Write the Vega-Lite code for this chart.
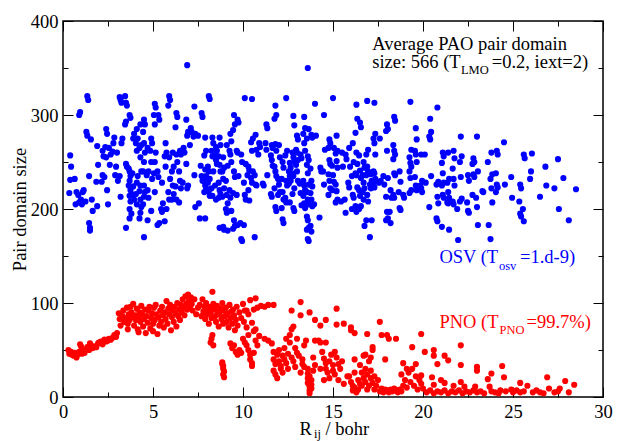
{
"$schema":"https://vega.github.io/schema/vega-lite/v6.json",
"width":540,"height":376,
"autosize":{"type":"none"},
"padding":{"left":63,"top":21,"right":21,"bottom":44},
"background":"white",
"config":{"view":{"stroke":"black","strokeWidth":1.5},"font":"Liberation Serif, Times New Roman, Times, serif",
 "text":{"font":"Liberation Serif, Times New Roman, Times, serif"},
 "axis":{"domain":false,"grid":false,"labelFont":"Liberation Serif, Times New Roman, Times, serif","labelFontSize":18.5,"labelColor":"black","tickColor":"black","tickWidth":1,"titleFont":"Liberation Serif, Times New Roman, Times, serif","titleFontSize":18.5,"titleFontWeight":"normal","titleColor":"black","labelOverlap":false,"labelFlush":false}},
"datasets":{
"notes":[{"t":"Average PAO pair domain","x":17.18,"y":369.6,"c":"note"},{"t":"size: 566 (T","x":17.18,"y":350,"c":"note"},{"t":"=0.2, iext=2)","x":23.82,"y":350,"c":"note"}],
"subs":[{"t":"LMO","x":22.11,"y":343.3,"c":"note"},{"t":"osv","x":24.22,"y":135.5,"c":"OSV"},{"t":"PNO","x":24.25,"y":66.7,"c":"PNO"}],
"labels":[{"t":"OSV (T","x":20.91,"y":142.2,"c":"OSV"},{"t":"=1.d-9)","x":25.39,"y":142.2,"c":"OSV"},{"t":"PNO (T","x":20.91,"y":73.6,"c":"PNO"},{"t":"=99.7%)","x":25.75,"y":73.6,"c":"PNO"}],
"osv":[
{"x":0.4,"y":257},{"x":0.45,"y":245},{"x":0.4,"y":231},{"x":0.35,"y":217},
{"x":0.7,"y":205},{"x":0.75,"y":218},{"x":0.65,"y":232},
{"x":0.9,"y":300},{"x":0.95,"y":303},{"x":0.85,"y":215},{"x":1.0,"y":210},{"x":0.9,"y":207},
{"x":1.1,"y":218},{"x":1.15,"y":220},{"x":1.05,"y":205},
{"x":1.3,"y":282},{"x":1.35,"y":278},{"x":1.25,"y":208},
{"x":1.35,"y":320},{"x":1.4,"y":316},
{"x":1.45,"y":185},{"x":1.5,"y":180},{"x":1.5,"y":177},{"x":1.45,"y":235},{"x":1.55,"y":274},
{"x":1.65,"y":198},{"x":1.6,"y":210},
{"x":1.9,"y":203},{"x":1.95,"y":247},{"x":1.85,"y":229},{"x":1.9,"y":267},
{"x":2.15,"y":229},{"x":2.2,"y":236},{"x":2.25,"y":256},{"x":2.2,"y":262},{"x":2.3,"y":234},
{"x":2.4,"y":285},{"x":2.45,"y":280},{"x":2.35,"y":266},{"x":2.4,"y":255},{"x":2.45,"y":220},{"x":2.5,"y":205},
{"x":2.6,"y":247},{"x":2.65,"y":258},{"x":2.55,"y":265},
{"x":2.8,"y":270},{"x":2.85,"y":276},{"x":2.75,"y":261},{"x":2.9,"y":236},
{"x":3.0,"y":260},{"x":3.05,"y":230},{"x":2.95,"y":245},
{"x":3.15,"y":319},{"x":3.2,"y":316},{"x":3.25,"y":313},{"x":3.2,"y":213},{"x":3.15,"y":235},{"x":3.25,"y":270},{"x":3.3,"y":275},
{"x":3.45,"y":320},{"x":3.5,"y":313},{"x":3.55,"y":310},{"x":3.5,"y":293},{"x":3.45,"y":290},{"x":3.5,"y":248},{"x":3.55,"y":245},{"x":3.5,"y":180},
{"x":3.7,"y":300},{"x":3.75,"y":297},{"x":3.65,"y":243},{"x":3.7,"y":240},{"x":3.75,"y":235},{"x":3.7,"y":230},{"x":3.65,"y":225},{"x":3.75,"y":220},{"x":3.7,"y":214},{"x":3.75,"y":208},{"x":3.7,"y":200},{"x":3.8,"y":195},{"x":3.7,"y":190},
{"x":3.9,"y":275},{"x":3.95,"y":280},{"x":3.85,"y":238},{"x":3.9,"y":224},{"x":3.95,"y":210},{"x":3.9,"y":215},
{"x":4.1,"y":285},{"x":4.15,"y":275},{"x":4.05,"y":270},{"x":4.1,"y":262},{"x":4.15,"y":235},{"x":4.1,"y":228},{"x":4.05,"y":216},{"x":4.1,"y":205},
{"x":4.3,"y":290},{"x":4.35,"y":268},{"x":4.25,"y":265},{"x":4.3,"y":255},{"x":4.35,"y":240},{"x":4.3,"y":225},{"x":4.25,"y":219},{"x":4.3,"y":210},{"x":4.35,"y":202},{"x":4.3,"y":196},{"x":4.25,"y":190},
{"x":4.5,"y":295},{"x":4.55,"y":290},{"x":4.45,"y":282},{"x":4.5,"y":270},{"x":4.55,"y":260},{"x":4.5,"y":250},{"x":4.45,"y":240},{"x":4.5,"y":225},{"x":4.55,"y":218},{"x":4.5,"y":213},{"x":4.45,"y":205},{"x":4.5,"y":170},
{"x":4.7,"y":265},{"x":4.75,"y":240},{"x":4.65,"y":236},{"x":4.7,"y":220},{"x":4.75,"y":212},{"x":4.7,"y":188},
{"x":4.9,"y":275},{"x":4.95,"y":270},{"x":4.85,"y":262},{"x":4.9,"y":250},{"x":4.95,"y":232},{"x":4.9,"y":198},
{"x":5.1,"y":312},{"x":5.15,"y":308},{"x":5.05,"y":300},{"x":5.1,"y":290},{"x":5.15,"y":260},{"x":5.1,"y":250},{"x":5.05,"y":238},{"x":5.1,"y":218},
{"x":5.3,"y":300},{"x":5.35,"y":295},{"x":5.25,"y":240},{"x":5.3,"y":234},{"x":5.35,"y":185},{"x":5.25,"y":183},
{"x":5.5,"y":228},{"x":5.55,"y":206},{"x":5.45,"y":200},{"x":5.5,"y":197},
{"x":5.7,"y":270},{"x":5.75,"y":260},{"x":5.65,"y":256},{"x":5.7,"y":245},{"x":5.75,"y":200},{"x":5.65,"y":187},
{"x":5.9,"y":320},{"x":5.95,"y":316},{"x":5.85,"y":310},{"x":5.9,"y":255},{"x":5.95,"y":232},{"x":5.85,"y":218},{"x":5.9,"y":210},
{"x":6.1,"y":260},{"x":6.15,"y":245},{"x":6.05,"y":240},{"x":6.1,"y":225},{"x":6.15,"y":216},{"x":6.05,"y":210},
{"x":6.3,"y":302},{"x":6.35,"y":298},{"x":6.25,"y":287},{"x":6.3,"y":258},{"x":6.35,"y":250},{"x":6.25,"y":224},{"x":6.3,"y":210},
{"x":6.5,"y":262},{"x":6.55,"y":258},{"x":6.45,"y":240},{"x":6.5,"y":230},{"x":6.55,"y":222},{"x":6.45,"y":207},
{"x":6.7,"y":265},{"x":6.75,"y":260},{"x":6.65,"y":228},
{"x":6.9,"y":353},{"x":6.85,"y":295},{"x":6.95,"y":282},{"x":6.9,"y":278},{"x":6.85,"y":248},{"x":6.95,"y":225},{"x":6.9,"y":222},
{"x":7.1,"y":286},{"x":7.15,"y":282},{"x":7.05,"y":268},
{"x":7.3,"y":309},{"x":7.35,"y":280},{"x":7.25,"y":277},{"x":7.3,"y":236},{"x":7.35,"y":202},
{"x":7.5,"y":278},{"x":7.55,"y":206},{"x":7.6,"y":190},
{"x":7.7,"y":302},{"x":7.75,"y":298},{"x":7.65,"y":246},{"x":7.7,"y":235},{"x":7.75,"y":230},
{"x":7.9,"y":276},{"x":7.95,"y":262},{"x":7.85,"y":257},{"x":7.9,"y":242},{"x":7.95,"y":235},{"x":7.85,"y":230},{"x":7.9,"y":225},{"x":7.95,"y":222},{"x":7.85,"y":218},{"x":7.9,"y":190},
{"x":8.1,"y":320},{"x":8.15,"y":317},{"x":8.05,"y":245},{"x":8.1,"y":240},{"x":8.15,"y":232},{"x":8.05,"y":228},{"x":8.1,"y":219},{"x":8.15,"y":214},
{"x":8.3,"y":276},{"x":8.35,"y":270},{"x":8.25,"y":262},{"x":8.3,"y":256},{"x":8.35,"y":240},{"x":8.25,"y":222},{"x":8.3,"y":214},
{"x":8.5,"y":266},{"x":8.55,"y":262},{"x":8.45,"y":257},{"x":8.5,"y":252},{"x":8.55,"y":248},{"x":8.45,"y":225},{"x":8.5,"y":210},
{"x":8.7,"y":276},{"x":8.75,"y":268},{"x":8.65,"y":256},{"x":8.7,"y":247},{"x":8.75,"y":240},{"x":8.65,"y":228},{"x":8.7,"y":220},{"x":8.75,"y":216},{"x":8.65,"y":212},{"x":8.7,"y":180},
{"x":8.9,"y":255},{"x":8.95,"y":244},{"x":8.85,"y":240},{"x":8.9,"y":232},{"x":8.95,"y":222},{"x":8.85,"y":213},{"x":8.9,"y":181},{"x":8.95,"y":178},
{"x":9.1,"y":268},{"x":9.15,"y":246},{"x":9.05,"y":230},{"x":9.1,"y":215},{"x":9.15,"y":206},{"x":9.05,"y":200},{"x":9.1,"y":196},{"x":9.15,"y":177},
{"x":9.3,"y":280},{"x":9.35,"y":272},{"x":9.25,"y":262},{"x":9.3,"y":258},{"x":9.35,"y":250},{"x":9.25,"y":220},{"x":9.3,"y":212},{"x":9.35,"y":198},
{"x":9.5,"y":300},{"x":9.55,"y":290},{"x":9.45,"y":284},{"x":9.5,"y":240},{"x":9.55,"y":234},{"x":9.45,"y":217},{"x":9.5,"y":188},{"x":9.55,"y":182},{"x":9.45,"y":179},
{"x":9.7,"y":295},{"x":9.75,"y":292},{"x":9.65,"y":262},{"x":9.7,"y":260},{"x":9.75,"y":235},{"x":9.65,"y":215},{"x":9.7,"y":183},
{"x":9.9,"y":258},{"x":9.95,"y":250},{"x":9.85,"y":185},{"x":9.9,"y":168},{"x":9.95,"y":166},
{"x":10.1,"y":318},{"x":10.15,"y":248},{"x":10.05,"y":228},{"x":10.1,"y":215},{"x":10.15,"y":210},{"x":10.05,"y":183},
{"x":10.3,"y":245},{"x":10.35,"y":241},{"x":10.25,"y":236},{"x":10.3,"y":220},{"x":10.35,"y":209},
{"x":10.5,"y":317},{"x":10.55,"y":275},{"x":10.45,"y":271},{"x":10.5,"y":262},{"x":10.55,"y":240},{"x":10.45,"y":233},{"x":10.5,"y":228},
{"x":10.7,"y":279},{"x":10.75,"y":263},{"x":10.65,"y":236},{"x":10.7,"y":226},{"x":10.75,"y":225},{"x":10.65,"y":170},
{"x":10.9,"y":270},{"x":10.95,"y":266},{"x":10.85,"y":258},
{"x":11.1,"y":227},{"x":11.15,"y":225},
{"x":11.3,"y":290},{"x":11.35,"y":286},{"x":11.25,"y":270},{"x":11.3,"y":263},{"x":11.35,"y":236},
{"x":11.6,"y":268},{"x":11.65,"y":265},{"x":11.55,"y":257},{"x":11.6,"y":252},{"x":11.65,"y":246},{"x":11.55,"y":216},{"x":11.6,"y":213},
{"x":11.8,"y":310},{"x":11.85,"y":300},{"x":11.75,"y":296},{"x":11.8,"y":269},{"x":11.85,"y":262},{"x":11.75,"y":245},{"x":11.8,"y":240},{"x":11.85,"y":235},{"x":11.75,"y":222},{"x":11.8,"y":202},{"x":11.85,"y":198},
{"x":12.0,"y":268},{"x":12.05,"y":255},{"x":11.95,"y":232},{"x":12.0,"y":226},{"x":12.05,"y":218},{"x":11.95,"y":215},
{"x":12.2,"y":250},{"x":12.25,"y":244},{"x":12.15,"y":232},{"x":12.2,"y":218},{"x":12.25,"y":210},{"x":12.15,"y":201},{"x":12.2,"y":189},{"x":12.25,"y":185},
{"x":12.4,"y":318},{"x":12.45,"y":262},{"x":12.35,"y":257},{"x":12.4,"y":230},{"x":12.45,"y":225},{"x":12.35,"y":212},{"x":12.4,"y":207},
{"x":12.6,"y":249},{"x":12.65,"y":244},{"x":12.55,"y":240},{"x":12.6,"y":235},{"x":12.65,"y":230},{"x":12.55,"y":227},{"x":12.6,"y":207},
{"x":12.8,"y":299},{"x":12.85,"y":289},{"x":12.75,"y":260},{"x":12.8,"y":255},{"x":12.85,"y":250},{"x":12.75,"y":238},{"x":12.8,"y":235},{"x":12.85,"y":222},{"x":12.75,"y":216},{"x":12.8,"y":201},{"x":12.85,"y":198},
{"x":13.0,"y":278},{"x":13.05,"y":274},{"x":12.95,"y":263},{"x":13.0,"y":260},{"x":13.05,"y":252},{"x":12.95,"y":247},{"x":13.0,"y":240},{"x":13.05,"y":230},
{"x":13.2,"y":258},{"x":13.25,"y":254},{"x":13.15,"y":227},{"x":13.2,"y":217},{"x":13.25,"y":204},
{"x":13.4,"y":298},{"x":13.45,"y":286},{"x":13.35,"y":280},{"x":13.4,"y":270},{"x":13.45,"y":262},{"x":13.35,"y":230},{"x":13.4,"y":225},{"x":13.45,"y":220},{"x":13.35,"y":214},{"x":13.4,"y":206},{"x":13.45,"y":201},
{"x":13.6,"y":350},{"x":13.65,"y":285},{"x":13.55,"y":275},{"x":13.6,"y":256},{"x":13.65,"y":252},{"x":13.55,"y":247},{"x":13.6,"y":238},{"x":13.65,"y":226},{"x":13.55,"y":218},{"x":13.6,"y":210},{"x":13.65,"y":205},{"x":13.55,"y":192},{"x":13.6,"y":188},{"x":13.65,"y":180},{"x":13.55,"y":178},{"x":13.6,"y":168},{"x":13.65,"y":166},
{"x":13.8,"y":279},{"x":13.85,"y":276},{"x":13.75,"y":243},{"x":13.8,"y":230},{"x":13.85,"y":224},{"x":13.75,"y":217},{"x":13.8,"y":210},{"x":13.85,"y":203},{"x":13.75,"y":182},{"x":13.8,"y":176},
{"x":14.0,"y":312},{"x":14.05,"y":278},{"x":13.95,"y":205},
{"x":14.3,"y":244},{"x":14.35,"y":240},{"x":14.25,"y":191},
{"x":14.5,"y":300},{"x":14.55,"y":263},{"x":14.45,"y":240},{"x":14.5,"y":226},
{"x":14.8,"y":274},{"x":14.85,"y":270},{"x":14.75,"y":265},{"x":14.8,"y":252},{"x":14.85,"y":248},{"x":14.75,"y":237},{"x":14.8,"y":230},{"x":14.85,"y":222},{"x":14.75,"y":215},
{"x":15.0,"y":318},{"x":15.05,"y":265},{"x":14.95,"y":246},{"x":15.0,"y":236},{"x":15.05,"y":229},{"x":14.95,"y":220},
{"x":15.2,"y":278},{"x":15.25,"y":262},{"x":15.15,"y":259},{"x":15.2,"y":251},{"x":15.25,"y":244},{"x":15.15,"y":226},{"x":15.2,"y":219},{"x":15.25,"y":210},{"x":15.15,"y":207},
{"x":15.5,"y":260},{"x":15.55,"y":245},{"x":15.45,"y":208},
{"x":15.7,"y":258},{"x":15.75,"y":253},{"x":15.65,"y":210},{"x":15.7,"y":196},
{"x":15.9,"y":265},{"x":15.95,"y":245},{"x":15.85,"y":228},{"x":15.9,"y":223},
{"x":16.1,"y":270},{"x":16.15,"y":250},{"x":16.05,"y":235},{"x":16.1,"y":215},{"x":16.15,"y":212},{"x":16.05,"y":200},
{"x":16.3,"y":311},{"x":16.35,"y":296},{"x":16.25,"y":281},{"x":16.3,"y":260},{"x":16.35,"y":248},{"x":16.25,"y":238},{"x":16.3,"y":236},{"x":16.35,"y":223},{"x":16.25,"y":203},{"x":16.3,"y":197},
{"x":16.5,"y":292},{"x":16.55,"y":287},{"x":16.45,"y":257},{"x":16.5,"y":241},{"x":16.55,"y":233},{"x":16.45,"y":220},{"x":16.5,"y":214},{"x":16.55,"y":203},{"x":16.45,"y":200},
{"x":16.7,"y":250},{"x":16.75,"y":244},{"x":16.65,"y":236},{"x":16.7,"y":228},{"x":16.75,"y":222},{"x":16.65,"y":218},{"x":16.7,"y":210},{"x":16.75,"y":182},
{"x":16.9,"y":315},{"x":16.95,"y":263},{"x":16.85,"y":258},{"x":16.9,"y":245},{"x":16.95,"y":240},{"x":16.85,"y":236},{"x":16.9,"y":215},{"x":16.95,"y":208},{"x":16.85,"y":188},
{"x":17.1,"y":237},{"x":17.15,"y":230},{"x":17.05,"y":226},{"x":17.1,"y":222},{"x":17.15,"y":188},{"x":17.05,"y":170},
{"x":17.3,"y":313},{"x":17.35,"y":280},{"x":17.25,"y":275},{"x":17.3,"y":270},{"x":17.35,"y":258},{"x":17.25,"y":240},{"x":17.3,"y":238},{"x":17.35,"y":232},{"x":17.25,"y":227},{"x":17.3,"y":223},
{"x":17.6,"y":275},{"x":17.65,"y":230},{"x":17.55,"y":228},
{"x":17.8,"y":235},{"x":17.85,"y":226},
{"x":18.0,"y":290},{"x":18.05,"y":285},{"x":17.95,"y":283},{"x":18.0,"y":262},{"x":18.05,"y":233},{"x":17.95,"y":213},{"x":18.0,"y":197},{"x":18.05,"y":190},{"x":17.95,"y":188},
{"x":18.2,"y":220},{"x":18.25,"y":212},{"x":18.15,"y":197},{"x":18.2,"y":185},
{"x":18.4,"y":298},{"x":18.45,"y":294},{"x":18.35,"y":268},{"x":18.4,"y":262},{"x":18.45,"y":258},{"x":18.35,"y":253},{"x":18.4,"y":238},{"x":18.45,"y":236},{"x":18.35,"y":215},{"x":18.4,"y":212},
{"x":18.7,"y":240},{"x":18.75,"y":229},{"x":18.65,"y":218},{"x":18.7,"y":201},{"x":18.75,"y":199},
{"x":18.9,"y":215},{"x":18.95,"y":212},
{"x":19.3,"y":314},{"x":19.35,"y":263},{"x":19.25,"y":255},{"x":19.3,"y":249},{"x":19.35,"y":245},{"x":19.25,"y":240},{"x":19.3,"y":233},{"x":19.35,"y":220},{"x":19.25,"y":217},
{"x":19.6,"y":286},{"x":19.65,"y":274},{"x":19.55,"y":262},{"x":19.6,"y":258},{"x":19.65,"y":250},{"x":19.55,"y":234},{"x":19.6,"y":225},{"x":19.65,"y":220},
{"x":19.9,"y":258},{"x":19.95,"y":230},{"x":19.85,"y":225},{"x":19.9,"y":222},{"x":19.95,"y":218},
{"x":20.1,"y":258},{"x":20.15,"y":228},
{"x":20.4,"y":296},{"x":20.45,"y":282},{"x":20.35,"y":277},{"x":20.4,"y":274},{"x":20.45,"y":235},{"x":20.35,"y":202},
{"x":20.8,"y":308},{"x":20.85,"y":229},{"x":20.75,"y":226},{"x":20.8,"y":213},{"x":20.85,"y":206},{"x":20.75,"y":190},{"x":20.8,"y":187},
{"x":21.1,"y":260},{"x":21.15,"y":256},{"x":21.05,"y":249},{"x":21.1,"y":238},{"x":21.15,"y":228},{"x":21.05,"y":225},{"x":21.1,"y":215},{"x":21.15,"y":212},{"x":21.05,"y":181},
{"x":21.4,"y":260},{"x":21.45,"y":232},{"x":21.35,"y":228},{"x":21.4,"y":218},{"x":21.45,"y":212},{"x":21.35,"y":207},{"x":21.4,"y":206},{"x":21.45,"y":178},
{"x":21.7,"y":262},{"x":21.75,"y":254},{"x":21.65,"y":243},{"x":21.7,"y":232},{"x":21.75,"y":225},{"x":21.65,"y":208},{"x":21.7,"y":205},
{"x":21.9,"y":200},{"x":21.95,"y":167},
{"x":22.1,"y":277},{"x":22.15,"y":256},{"x":22.05,"y":250},{"x":22.1,"y":234},{"x":22.15,"y":211},{"x":22.05,"y":208},
{"x":22.5,"y":236},{"x":22.55,"y":230},{"x":22.45,"y":207},{"x":22.5,"y":198},{"x":22.55,"y":196},
{"x":22.8,"y":254},{"x":22.85,"y":250},{"x":22.75,"y":248},{"x":22.8,"y":237},{"x":22.85,"y":234},{"x":22.75,"y":215},
{"x":23.0,"y":277},{"x":23.05,"y":240},{"x":22.95,"y":212},{"x":23.0,"y":202},{"x":23.05,"y":183},
{"x":23.3,"y":219},{"x":23.35,"y":218},
{"x":23.6,"y":250},{"x":23.65,"y":183},
{"x":23.8,"y":260},{"x":23.85,"y":237},{"x":23.75,"y":232},{"x":23.8,"y":222},{"x":23.85,"y":207},{"x":23.75,"y":168},
{"x":24.1,"y":262},{"x":24.15,"y":258},{"x":24.05,"y":238},{"x":24.1,"y":226},{"x":24.15,"y":223},{"x":24.05,"y":218},
{"x":24.5,"y":271},{"x":24.55,"y":226},
{"x":24.9,"y":234},{"x":24.95,"y":212},
{"x":25.4,"y":226},{"x":25.45,"y":222},{"x":25.35,"y":208},{"x":25.4,"y":195},{"x":25.45,"y":192},
{"x":25.6,"y":258},{"x":25.65,"y":254},{"x":25.55,"y":200},{"x":25.6,"y":187},
{"x":26.0,"y":240},{"x":26.05,"y":259},{"x":25.95,"y":232},
{"x":26.5,"y":213},
{"x":26.8,"y":245},{"x":26.85,"y":225},
{"x":27.3,"y":222},
{"x":27.5,"y":253},{"x":27.55,"y":200},
{"x":27.8,"y":233},
{"x":28.1,"y":188},
{"x":28.5,"y":221}
],
"pno":[
{"x":0.3,"y":50},{"x":0.35,"y":46},{"x":0.45,"y":48},{"x":0.5,"y":45},{"x":0.6,"y":44},{"x":0.65,"y":47},{"x":0.75,"y":42},{"x":0.8,"y":45},{"x":0.9,"y":48},{"x":0.95,"y":56},{"x":1.0,"y":54},{"x":1.05,"y":46},{"x":1.15,"y":49},{"x":1.2,"y":47},{"x":1.3,"y":51},{"x":1.35,"y":53},{"x":1.45,"y":50},{"x":1.5,"y":57},{"x":1.55,"y":55},{"x":1.65,"y":52},{"x":1.75,"y":54},{"x":1.85,"y":53},{"x":1.95,"y":57},{"x":2.0,"y":58},{"x":2.1,"y":59},{"x":2.2,"y":56},{"x":2.3,"y":61},{"x":2.4,"y":59},{"x":2.5,"y":60},{"x":2.55,"y":62},{"x":2.65,"y":61},{"x":2.75,"y":63},{"x":2.85,"y":66},{"x":2.95,"y":64},{"x":3.0,"y":68},
{"x":3.1,"y":89},{"x":3.15,"y":83},{"x":3.2,"y":76},{"x":3.3,"y":86},{"x":3.35,"y":92},{"x":3.4,"y":80},{"x":3.5,"y":84},{"x":3.55,"y":95},{"x":3.6,"y":78},{"x":3.65,"y":88},{"x":3.7,"y":82},{"x":3.75,"y":96},{"x":3.8,"y":90},{"x":3.85,"y":85},{"x":3.9,"y":99},{"x":3.95,"y":76},{"x":4.0,"y":87},{"x":4.05,"y":82},{"x":4.1,"y":94},{"x":4.15,"y":72},{"x":4.2,"y":85},{"x":4.25,"y":90},{"x":4.3,"y":80},{"x":4.35,"y":97},{"x":4.4,"y":88},{"x":4.45,"y":75},{"x":4.5,"y":83},{"x":4.55,"y":93},{"x":4.6,"y":68},{"x":4.65,"y":86},{"x":4.7,"y":79},{"x":4.75,"y":92},{"x":4.8,"y":96},{"x":4.85,"y":73},{"x":4.9,"y":84},{"x":4.95,"y":89},{"x":5.0,"y":78},{"x":5.05,"y":95},{"x":5.1,"y":82},{"x":5.15,"y":98},{"x":5.2,"y":88},{"x":5.25,"y":67},{"x":5.3,"y":85},{"x":5.35,"y":76},{"x":5.4,"y":92},{"x":5.45,"y":80},{"x":5.5,"y":96},{"x":5.55,"y":87},{"x":5.6,"y":74},{"x":5.65,"y":90},{"x":5.7,"y":83},{"x":5.75,"y":102},{"x":5.8,"y":78},{"x":5.85,"y":94},{"x":5.9,"y":88},{"x":5.95,"y":98},{"x":6.0,"y":71},{"x":6.05,"y":85},{"x":6.1,"y":92},{"x":6.15,"y":80},{"x":6.2,"y":96},{"x":6.25,"y":89},{"x":6.3,"y":75},{"x":6.35,"y":100},{"x":6.4,"y":86},{"x":6.45,"y":93},{"x":6.5,"y":82},{"x":6.55,"y":98},{"x":6.6,"y":90},{"x":6.65,"y":104},{"x":6.7,"y":95},{"x":6.75,"y":87},{"x":6.8,"y":107},{"x":6.85,"y":99},{"x":6.9,"y":93},{"x":6.95,"y":109},{"x":7.0,"y":102},{"x":7.05,"y":96},{"x":7.1,"y":106},{"x":7.15,"y":99},{"x":7.2,"y":92},{"x":7.3,"y":104},{"x":7.4,"y":88},{"x":7.5,"y":95},{"x":7.6,"y":98},{"x":7.7,"y":86},{"x":7.75,"y":104},{"x":7.8,"y":91},{"x":7.85,"y":96},{"x":7.9,"y":83},{"x":7.95,"y":100},{"x":8.0,"y":88},{"x":8.05,"y":93},{"x":8.1,"y":78},{"x":8.15,"y":96},{"x":8.2,"y":90},{"x":8.25,"y":84},{"x":8.3,"y":112},{"x":8.35,"y":99},{"x":8.4,"y":93},{"x":8.45,"y":86},{"x":8.5,"y":80},{"x":8.55,"y":97},{"x":8.6,"y":91},{"x":8.65,"y":75},{"x":8.7,"y":88},{"x":8.75,"y":94},{"x":8.8,"y":83},{"x":8.85,"y":100},{"x":8.9,"y":78},{"x":8.95,"y":92},{"x":9.0,"y":86},{"x":9.05,"y":95},{"x":9.1,"y":80},{"x":9.15,"y":89},{"x":9.2,"y":74},{"x":9.25,"y":98},{"x":9.3,"y":84},{"x":9.35,"y":91},{"x":9.4,"y":78},{"x":9.45,"y":93},{"x":9.5,"y":87},{"x":9.55,"y":71},{"x":9.6,"y":82},{"x":9.65,"y":96},{"x":9.7,"y":76},{"x":9.8,"y":90},{"x":9.9,"y":84},{"x":10.0,"y":99},{"x":10.05,"y":80},{"x":10.1,"y":92},{"x":10.2,"y":74},{"x":10.3,"y":88},{"x":10.4,"y":103},{"x":10.5,"y":79},{"x":10.6,"y":93},{"x":10.7,"y":72},{"x":10.8,"y":95},{"x":11.0,"y":97},{"x":11.2,"y":96},{"x":11.4,"y":98},
{"x":3.6,"y":72},{"x":4.2,"y":69},{"x":5.0,"y":70},
{"x":8.2,"y":58},{"x":8.25,"y":62},{"x":8.3,"y":66},{"x":8.35,"y":55},
{"x":8.85,"y":37},{"x":8.9,"y":33},{"x":8.9,"y":30},{"x":8.95,"y":27},{"x":8.9,"y":24},{"x":8.95,"y":21},{"x":8.85,"y":35},
{"x":9.3,"y":57},{"x":9.4,"y":52},{"x":9.5,"y":55},{"x":9.6,"y":48},{"x":9.7,"y":45},{"x":9.8,"y":50},{"x":9.9,"y":47},
{"x":10.0,"y":62},{"x":10.1,"y":58},{"x":10.2,"y":55},{"x":10.3,"y":66},{"x":10.3,"y":50},{"x":10.4,"y":45},{"x":10.4,"y":40},{"x":10.5,"y":36},{"x":10.5,"y":33},{"x":10.6,"y":47},{"x":10.6,"y":70},{"x":10.7,"y":60},{"x":10.8,"y":55},{"x":10.9,"y":65},
{"x":11.2,"y":62},{"x":11.4,"y":60},{"x":11.6,"y":57},{"x":11.7,"y":48},{"x":11.7,"y":40},{"x":11.8,"y":35},{"x":11.7,"y":28},{"x":11.8,"y":24},{"x":11.9,"y":20},{"x":11.9,"y":45},{"x":12.0,"y":50},{"x":12.0,"y":38},{"x":12.1,"y":33},{"x":12.1,"y":30},{"x":12.2,"y":44},{"x":12.2,"y":26},{"x":12.3,"y":40},{"x":12.3,"y":52},{"x":12.4,"y":36},{"x":12.4,"y":62},{"x":12.5,"y":46},{"x":12.5,"y":30},{"x":12.6,"y":58},{"x":12.6,"y":66},{"x":12.7,"y":42},{"x":12.7,"y":72},{"x":12.8,"y":75},{"x":12.8,"y":38},{"x":12.9,"y":52},{"x":12.9,"y":32},{"x":13.0,"y":62},{"x":13.0,"y":47},{"x":13.1,"y":44},{"x":13.2,"y":26},{"x":13.3,"y":40},{"x":13.3,"y":35},{"x":13.4,"y":32},{"x":13.4,"y":55},{"x":13.5,"y":60},{"x":13.6,"y":30},{"x":13.6,"y":25},{"x":13.6,"y":20},{"x":13.6,"y":15},{"x":13.7,"y":11},{"x":13.7,"y":7},{"x":13.7,"y":4},{"x":13.7,"y":22},{"x":13.8,"y":18},{"x":13.8,"y":13},{"x":13.8,"y":9},{"x":13.9,"y":28},{"x":13.9,"y":42},{"x":14.0,"y":34},{"x":14.0,"y":60},
{"x":14.3,"y":58},{"x":14.4,"y":48},{"x":14.5,"y":41},{"x":14.6,"y":36},{"x":14.6,"y":30},{"x":14.7,"y":26},{"x":14.8,"y":38},{"x":14.8,"y":20},{"x":14.9,"y":45},{"x":15.0,"y":34},{"x":15.0,"y":28},{"x":15.1,"y":24},{"x":15.1,"y":48},{"x":15.2,"y":42},{"x":15.3,"y":35},{"x":15.3,"y":18},{"x":15.4,"y":30},{"x":15.5,"y":38},{"x":14.3,"y":30},{"x":14.5,"y":18},{"x":15.6,"y":14},{"x":15.8,"y":22},
{"x":15.9,"y":22},{"x":16.0,"y":16},{"x":16.1,"y":12},{"x":16.1,"y":7},{"x":16.2,"y":10},{"x":16.2,"y":26},{"x":16.3,"y":5},{"x":16.4,"y":18},{"x":16.4,"y":8},{"x":16.5,"y":14},{"x":16.5,"y":34},{"x":16.6,"y":26},{"x":16.6,"y":12},{"x":16.7,"y":44},{"x":16.7,"y":20},{"x":16.8,"y":16},{"x":16.8,"y":30},{"x":16.9,"y":24},{"x":16.9,"y":8},{"x":17.0,"y":38},{"x":17.0,"y":12},{"x":17.1,"y":28},{"x":17.1,"y":20},{"x":17.2,"y":15},{"x":17.2,"y":50},{"x":17.3,"y":22},{"x":17.3,"y":8},{"x":17.4,"y":12},{"x":17.5,"y":18},{"x":17.6,"y":6},{"x":17.7,"y":9},{"x":17.8,"y":5},{"x":17.9,"y":8},{"x":18.0,"y":7},{"x":18.1,"y":5},{"x":18.2,"y":8},{"x":18.3,"y":6},{"x":18.4,"y":9},{"x":18.5,"y":7},{"x":18.6,"y":5},{"x":18.7,"y":8},{"x":18.8,"y":6},{"x":18.8,"y":24},{"x":18.9,"y":12},{"x":19.0,"y":18},{"x":19.1,"y":10},{"x":19.2,"y":26},{"x":19.3,"y":16},{"x":19.4,"y":30},{"x":19.5,"y":12},{"x":19.6,"y":22},{"x":19.7,"y":8},{"x":19.8,"y":18},{"x":19.9,"y":14},{"x":20.0,"y":9},
{"x":13.2,"y":101},{"x":13.2,"y":87},{"x":13.7,"y":90},{"x":14.0,"y":82},{"x":14.3,"y":76},{"x":14.6,"y":82},{"x":15.2,"y":94},{"x":15.2,"y":77},{"x":15.6,"y":78},{"x":16.0,"y":74},{"x":16.0,"y":71},{"x":16.9,"y":67},{"x":17.6,"y":80},{"x":17.7,"y":66},{"x":18.0,"y":66},{"x":18.1,"y":62},{"x":18.5,"y":62},{"x":19.4,"y":53},{"x":17.2,"y":53},{"x":12.7,"y":92},{"x":11.7,"y":98},{"x":10.7,"y":105},{"x":10.2,"y":92},{"x":14.2,"y":60},{"x":14.6,"y":58},{"x":16.2,"y":40},{"x":16.8,"y":45},{"x":17.1,"y":42},{"x":17.9,"y":40},{"x":18.9,"y":36},{"x":19.1,"y":30},{"x":19.6,"y":35},{"x":16.2,"y":68},
{"x":19.9,"y":67},{"x":20.1,"y":48},{"x":20.6,"y":50},{"x":20.6,"y":44},{"x":20.8,"y":35},{"x":21.2,"y":44},{"x":21.4,"y":39},{"x":22.1,"y":55},{"x":22.1,"y":34},{"x":23.0,"y":32},{"x":23.0,"y":28},{"x":23.6,"y":19},{"x":23.8,"y":25},{"x":24.4,"y":33},{"x":24.5,"y":21},{"x":26.9,"y":21},{"x":25.4,"y":15},{"x":27.9,"y":17},{"x":28.4,"y":13},{"x":19.9,"y":23},{"x":20.5,"y":21},{"x":20.6,"y":13},{"x":21.0,"y":18},{"x":21.2,"y":15},{"x":21.7,"y":12},{"x":22.1,"y":16},{"x":22.3,"y":11},{"x":22.9,"y":11},{"x":23.7,"y":11},{"x":24.3,"y":7},{"x":25.0,"y":5},{"x":25.4,"y":5},{"x":26.1,"y":5},{"x":26.5,"y":5},{"x":27.0,"y":9},{"x":27.3,"y":5},{"x":27.6,"y":9},{"x":28.1,"y":5},{"x":20.2,"y":5},{"x":20.4,"y":7},{"x":20.6,"y":4},{"x":20.8,"y":6},{"x":21.0,"y":5},{"x":21.2,"y":7},{"x":21.4,"y":4},{"x":21.6,"y":6},{"x":21.8,"y":5},{"x":22.0,"y":7},{"x":22.2,"y":4},{"x":22.4,"y":6},{"x":22.6,"y":5},{"x":22.8,"y":7},{"x":23.0,"y":5},{"x":23.2,"y":6},{"x":23.4,"y":4},{"x":23.8,"y":6},{"x":24.0,"y":5},{"x":24.2,"y":4},{"x":24.6,"y":6},{"x":25.2,"y":7},{"x":25.6,"y":6},{"x":26.3,"y":7},{"x":26.7,"y":4},{"x":27.5,"y":6},{"x":25.8,"y":12},{"x":24.9,"y":8}
]},
"layer":[
{"data":{"name":"osv"},"mark":{"type":"point","filled":true,"size":38,"opacity":1,"color":"#0000ff"},
 "encoding":{
  "x":{"field":"x","type":"quantitative","scale":{"domain":[0,30],"nice":false,"zero":false},
   "axis":{"orient":"bottom","values":[0,5,10,15,20,25,30],"tickSize":-10,"labelPadding":15,"title":"R","titleX":236,"titleY":37,"titleAlign":"left","titleBaseline":"alphabetic"}},
  "y":{"field":"y","type":"quantitative","scale":{"domain":[0,400],"nice":false,"zero":false},
   "axis":{"orient":"left","values":[0,100,200,300,400],"tickSize":-10,"labelPadding":15,"title":"Pair domain size","titleX":-38,"titleY":188,"titleAngle":-90,"titleAlign":"center","titleBaseline":"alphabetic"}}}},
{"data":{"name":"pno"},"mark":{"type":"point","filled":true,"size":38,"opacity":1,"color":"#ff0000"},
 "encoding":{
  "x":{"field":"x","type":"quantitative","axis":{"orient":"bottom","values":[2.5,7.5,12.5,17.5,22.5,27.5],"tickSize":-5,"labels":false,"title":"ij","titleFontSize":12.5,"titleX":250.5,"titleY":40.5,"titleAlign":"left","titleBaseline":"alphabetic"}},
  "y":{"field":"y","type":"quantitative","axis":{"orient":"left","values":[50,150,250,350],"tickSize":-5,"labels":false,"title":null}}}},
{"data":{"name":"notes"},"mark":{"type":"text","font":"Liberation Serif, Times New Roman, Times, serif","fontSize":18.5,"align":"left","baseline":"alphabetic"},
 "encoding":{
  "x":{"field":"x","type":"quantitative","axis":{"orient":"top","values":[0,5,10,15,20,25,30],"tickSize":-10,"labels":false,"title":null}},
  "y":{"field":"y","type":"quantitative","axis":{"orient":"right","values":[0,100,200,300,400],"tickSize":-10,"labels":false,"title":null}},
  "text":{"field":"t"},
  "color":{"field":"c","type":"nominal","scale":{"domain":["note","OSV","PNO"],"range":["#000000","#0000ff","#ff0000"]},"legend":null}}},
{"data":{"name":"subs"},"mark":{"type":"text","font":"Liberation Serif, Times New Roman, Times, serif","fontSize":12.5,"align":"left","baseline":"alphabetic"},
 "encoding":{
  "x":{"field":"x","type":"quantitative","axis":{"orient":"top","values":[2.5,7.5,12.5,17.5,22.5,27.5],"tickSize":-5,"labels":false,"title":null}},
  "y":{"field":"y","type":"quantitative","axis":{"orient":"right","values":[50,150,250,350],"tickSize":-5,"labels":false,"title":null}},
  "text":{"field":"t"},
  "color":{"field":"c","type":"nominal","legend":null}}},
{"data":{"name":"labels"},"mark":{"type":"text","font":"Liberation Serif, Times New Roman, Times, serif","fontSize":18.5,"align":"left","baseline":"alphabetic"},
 "encoding":{
  "x":{"field":"x","type":"quantitative","axis":{"orient":"bottom","ticks":false,"labels":false,"title":"/ bohr","titleX":262,"titleY":37,"titleAlign":"left","titleBaseline":"alphabetic"}},
  "y":{"field":"y","type":"quantitative","axis":null},
  "text":{"field":"t"},
  "color":{"field":"c","type":"nominal","legend":null}}}
],
"resolve":{"axis":{"x":"independent","y":"independent"}}
}
